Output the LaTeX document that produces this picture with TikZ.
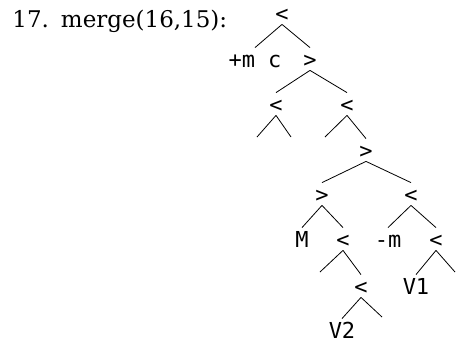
\documentclass[tikz,border=0pt]{standalone}
\usepackage{fontspec}
\setmainfont{DejaVu Serif}
\setmonofont{DejaVu Sans Mono}

\begin{document}
\begin{tikzpicture}[x=1pt,y=-1pt,line width=0.8pt,
  lab/.style={font=\ttfamily\fontsize{22}{22}\selectfont,inner xsep=0pt,
    inner ysep=3pt,text height=16pt,text depth=0pt}]
\useasboundingbox (0,0) rectangle (459,343);
\node[anchor=base west,inner sep=0pt,font=\fontsize{23}{28}\selectfont] (title)
  at (12,27) {17.\hspace{12pt}merge(16,15):};
% levels 0--2
\node[lab] (r) at (282,13) {<};
\node[lab] (pmc) at (255,59) {+m c};
\node[lab] (g1) at (310,59) {>};
\node[lab] (l1) at (276,104) {<};
\node[lab] (l2) at (347,104) {<};
\coordinate (e1) at (257,137);
\coordinate (e2) at (291,137);
\coordinate (e3) at (325,137);
% levels 3--7
\node[lab] (g2) at (366,150) {>};
\node[lab] (g3) at (322,194) {>};
\node[lab] (l3) at (411,194) {<};
\node[lab] (mm) at (302,239) {M};
\node[lab] (l4) at (343,239) {<};
\node[lab] (mneg) at (388,239) {-m};
\node[lab] (l5) at (436,239) {<};
\coordinate (e4) at (320,272);
\coordinate (e5) at (455,272);
\node[lab] (l6) at (361,286) {<};
\node[lab] (v1) at (416,286) {V1};
\node[lab] (v2) at (342,330) {V2};
\coordinate (e6) at (382,317);
\draw (r.south)--(pmc.north) (r.south)--(g1.north);
\draw (g1.south)--(l1.north) (g1.south)--(l2.north);
\draw (l1.south)--(e1) (l1.south)--(e2);
\draw (l2.south)--(e3) (l2.south)--(g2.north);
\draw (g2.south)--(g3.north) (g2.south)--(l3.north);
\draw (g3.south)--(mm.north) (g3.south)--(l4.north);
\draw (l3.south)--(mneg.north) (l3.south)--(l5.north);
\draw (l4.south)--(e4) (l4.south)--(l6.north);
\draw (l5.south)--(v1.north) (l5.south)--(e5);
\draw (l6.south)--(v2.north) (l6.south)--(e6);
\end{tikzpicture}
\end{document}
